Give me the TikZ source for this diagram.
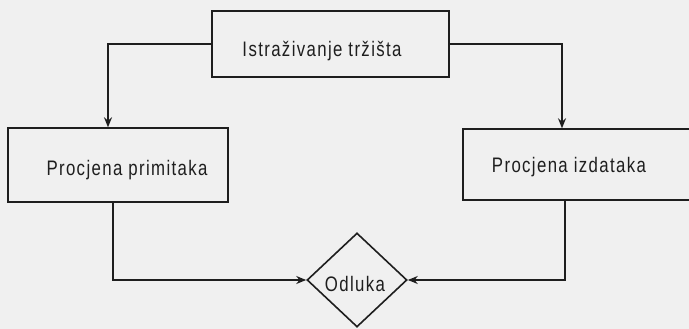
\documentclass[tikz,border=0pt]{standalone}
\usepackage{fontspec}
\setmainfont{Liberation Sans}[LetterSpace=6.5, FakeStretch=0.8]
\usetikzlibrary{shapes.geometric,arrows.meta}
\definecolor{ink}{HTML}{1E1E1E}
\definecolor{paper}{HTML}{F0F0F0}
\tikzset{
  box/.style={draw=ink, line width=1.4pt, rectangle, inner sep=0pt},
  lbl/.style={text=ink, font=\fontsize{21}{23}\selectfont, inner sep=0pt},
  decbox/.style={draw=ink, line width=1.6pt, diamond, inner sep=0pt, minimum width=100pt, minimum height=94pt},
  arr/.style={draw=ink, line width=1.4pt, -{Stealth[length=10pt,width=8pt]}},
}
\begin{document}
\begin{tikzpicture}[x=1pt,y=-1pt]
\fill[paper] (0,0) rectangle (689,329);
\useasboundingbox (0,0) rectangle (689,329);
\clip (0,0) rectangle (689,329);
\node[box, minimum width=237pt, minimum height=66pt] (top) at (330.5,44) {};
\node[lbl] (toptxt) at (322,51) {Istraživanje tržišta};
\node[box, minimum width=220pt, minimum height=74pt] (left) at (118,165) {};
\node[lbl] (lefttxt) at (127,170) {Procjena primitaka};
\node[box, minimum width=240pt, minimum height=71pt] (right) at (583,164.5) {};
\node[lbl] (righttxt) at (569,167) {Procjena izdataka};
\node[decbox] (dec) at (357,280) {};
\node[lbl] (dectxt) at (355,284) {Odluka};
\draw[arr] (top.west) -| ([xshift=-10pt]left.north);
\draw[arr] (top.east) -| ([xshift=-21pt]right.north);
\draw[arr] ([xshift=-5pt]left.south) |- (dec.west);
\draw[arr] ([xshift=-18pt]right.south) |- (dec.east);
\end{tikzpicture}
\end{document}
